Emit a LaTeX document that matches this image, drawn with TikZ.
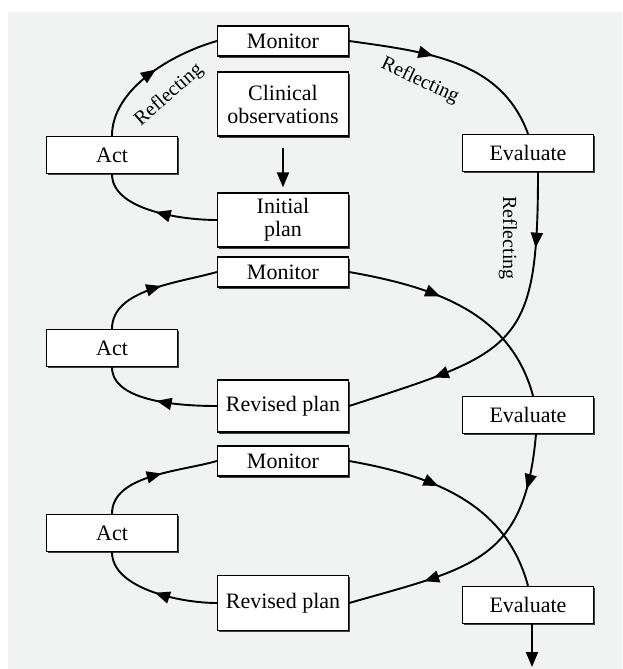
\documentclass[tikz,border=0pt]{standalone}
\usepackage{fontspec}
\setmainfont{Liberation Serif}
\usetikzlibrary{arrows.meta,decorations.markings,shadows}
\definecolor{bggray}{HTML}{F1F2F2}

\begin{document}
\begin{tikzpicture}[x=1pt,y=1pt,
  stage/.style={draw, line width=1.3pt, fill=white, minimum width=131pt, minimum height=30pt, inner sep=2pt, align=center, font=\fontsize{22}{23}\selectfont, drop shadow={shadow xshift=1.3pt, shadow yshift=-1.6pt, fill=black!75, opacity=1}},
  loop/.style={line width=1.9pt},
  tip at/.style={postaction={decorate, decoration={markings, mark=at position #1 with {\arrow{Triangle[length=15pt,width=12pt]}}}}},
  reflect/.style={font=\fontsize{20}{21}\selectfont, inner sep=0pt}]
\useasboundingbox (0,0) rectangle (622,-669);
\fill[bggray] (8,-12) rectangle (622,-669);
%grey page behind the whole cycle
\node[stage] (mon1) at (283,-41) {Monitor};
\node[stage, minimum height=64pt] (obs) at (283,-104) {Clinical\\observations};
\node[stage, minimum height=54pt] (plan) at (283,-220) {Initial\\plan};
\node[stage, minimum height=37pt] (act1) at (112,-155) {Act};
\node[stage, minimum height=37pt] (eval1) at (528,-153) {Evaluate};
%first loop: boxes
\node[stage] (mon2) at (283,-272) {Monitor};
\node[stage, minimum height=37pt] (act2) at (112,-348) {Act};
\node[stage, minimum height=52pt] (rev1) at (283,-406) {Revised plan};
\node[stage, minimum height=37pt] (eval2) at (528,-415) {Evaluate};
%second loop: boxes
\node[stage] (mon3) at (283,-461) {Monitor};
\node[stage, minimum height=37pt] (act3) at (112,-533) {Act};
\node[stage, minimum height=55pt] (rev2) at (283,-603) {Revised plan};
\node[stage, minimum height=37pt] (eval3) at (528,-605) {Evaluate};
\coordinate (exit) at (532,-667);
%third loop: boxes, and where the last arrow leaves the page
\node[reflect, rotate=41] (refl1) at (169,-95) {Reflecting};
\node[reflect, rotate=-25] (refl2) at (420,-81) {Reflecting};
\node[reflect, rotate=-90] (refl3) at (508,-238) {Reflecting};
%the three reflecting labels of the first loop
\draw[loop, -{Triangle[length=15pt,width=12pt]}, shorten <=11pt, shorten >=5pt] (obs) -- (plan);
\draw[loop, tip at=0.5] (plan.west) to[out=180, in=-90, looseness=0.8] (act1.south);
\draw[loop, tip at=0.55] (act1.north) to[out=90, in=196, looseness=0.85] (mon1.west);
\draw[loop, tip at=0.4] (mon1.east) to[out=-8, in=110] (eval1.north);
\draw[loop, tip at=0.22, tip at=0.74] ([xshift=10pt]eval1.south) to[out=-90, in=18, looseness=1.5] (rev1.east);
%first loop: plan -> act -> monitor -> evaluate -> revised plan
\draw[loop, tip at=0.5] (rev1.west) to[out=180, in=-90, looseness=0.8] (act2.south);
\draw[loop, tip at=0.55] (act2.north) to[out=90, in=196, looseness=0.85] (mon2.west);
\draw[loop, tip at=0.4] (mon2.east) to[out=-10, in=105] ([xshift=5pt]eval2.north);
\draw[loop, tip at=0.2, tip at=0.72] ([xshift=8pt]eval2.south) to[out=-95, in=16, looseness=1.3] (rev2.east);
%second loop
\draw[loop, tip at=0.5] (rev2.west) to[out=180, in=-90, looseness=0.8] (act3.south);
\draw[loop, tip at=0.55] (act3.north) to[out=90, in=196, looseness=0.85] (mon3.west);
\draw[loop, tip at=0.4] (mon3.east) to[out=-10, in=105] (eval3.north);
\draw[loop, -{Triangle[length=15pt,width=12pt]}] ([xshift=4pt]eval3.south) -- (exit);
%third loop, then out of the cycle
\end{tikzpicture}
\end{document}
